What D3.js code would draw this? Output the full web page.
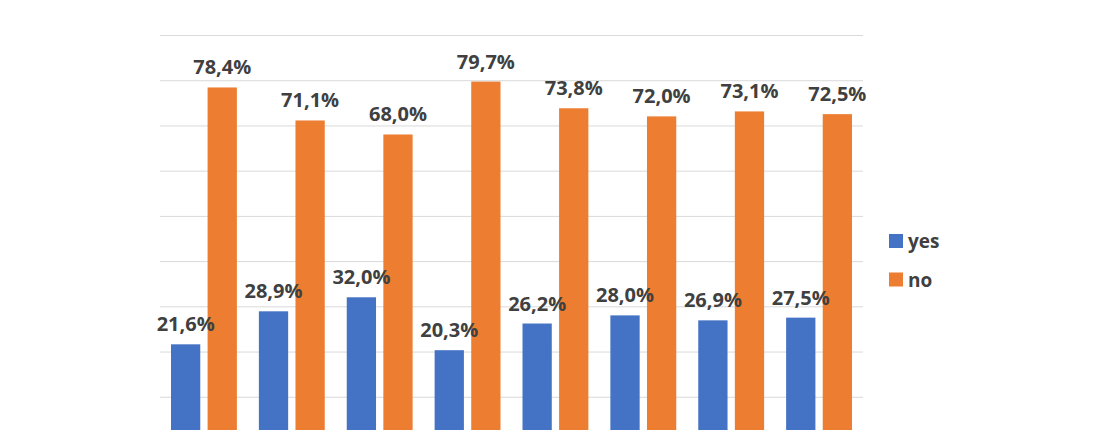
<!DOCTYPE html>
<html>
<head>
<meta charset="utf-8">
<script src="https://cdn.jsdelivr.net/npm/d3@7"></script>
<style>
    body { margin: 0; background: #fff; }
    text { font-family: "Open Sans", "DejaVu Sans", sans-serif; }
</style>
</head>
<body>
<div id="chart"></div>
<script>
// categories and values
var categories = ["1", "2", "3", "4", "5", "6", "7", "8"];
var seriesNames = ["yes", "no"];
var yesValues = [21.6, 28.9, 32.0, 20.3, 26.2, 28.0, 26.9, 27.5];
var noValues = [78.4, 71.1, 68.0, 79.7, 73.8, 72.0, 73.1, 72.5];
var yTicks = [0, 10, 20, 30, 40, 50, 60, 70, 80, 90];

var Colors = ["#4472C4", "#ED7D31"];

var width = 1100, height = 430;
var margin = { top: 35, left: 160, right: 237 };
var baseline = 442; // axis sits just below the visible area

var svg = d3.select("#chart")
    .append("svg")
    .attr("width", width)
    .attr("height", height);

var data = categories.map(function (c, i) {
    return { cat: c, values: [yesValues[i], noValues[i]] };
});

var x0 = d3.scaleBand()
    .domain(categories)
    .range([margin.left, width - margin.right]);

var x1 = d3.scaleBand()
    .domain(seriesNames)
    .range([11, x0.bandwidth() - 11])
    .paddingInner(0.2);

var yScale = d3.scaleLinear()
    .domain([0, 90])
    .range([baseline, margin.top]);

var color = d3.scaleOrdinal().domain(seriesNames).range(Colors);

// gridlines
svg.append("g")
    .attr("class", "grid")
    .attr("transform", "translate(" + margin.left + ",0)")
    .call(d3.axisLeft(yScale)
        .tickValues(yTicks)
        .tickSize(-(width - margin.right - margin.left))
        .tickFormat(""))
    .call(function (g) {
        g.select(".domain").remove();
        g.selectAll("line").attr("stroke", "#d9d9d9").attr("stroke-width", 1);
    });

var groups = svg.selectAll(".group")
    .data(data).enter()
    .append("g")
    .attr("class", "group")
    .attr("transform", function (d) { return "translate(" + x0(d.cat) + ",0)"; });

var bars = groups.selectAll(".bar")
    .data(function (d) {
        return d.values.map(function (v, i) { return { key: seriesNames[i], value: v }; });
    }).enter();

bars.append("rect")
    .attr("class", "bar")
    .attr("x", function (d) { return x1(d.key); })
    .attr("width", x1.bandwidth())
    .attr("y", function (d) { return yScale(d.value); })
    .attr("height", function (d) { return baseline - yScale(d.value); })
    .style("fill", function (d) { return color(d.key); });

bars.append("text")
    .attr("x", function (d) { return x1(d.key) + x1.bandwidth() / 2; })
    .attr("y", function (d) { return yScale(d.value) - 13; })
    .attr("text-anchor", "middle")
    .style("font-size", "20px")
    .style("font-weight", "bold")
    .style("fill", "#404040")
    .text(function (d) { return d.value.toFixed(1).replace(".", ",") + "%"; });

// legend
var legend = svg.selectAll(".legend")
    .data(seriesNames)
    .enter().append("g")
    .attr("class", "legend")
    .attr("transform", function (d, i) { return "translate(889," + (234 + i * 38.5) + ")"; });

legend.append("rect")
    .attr("width", 14)
    .attr("height", 14)
    .style("fill", function (d) { return color(d); });

legend.append("text")
    .attr("x", 19)
    .attr("y", 14)
    .style("font-size", "19px")
    .style("font-weight", "bold")
    .style("fill", "#404040")
    .text(function (d) { return d; });
</script>
</body>
</html>
